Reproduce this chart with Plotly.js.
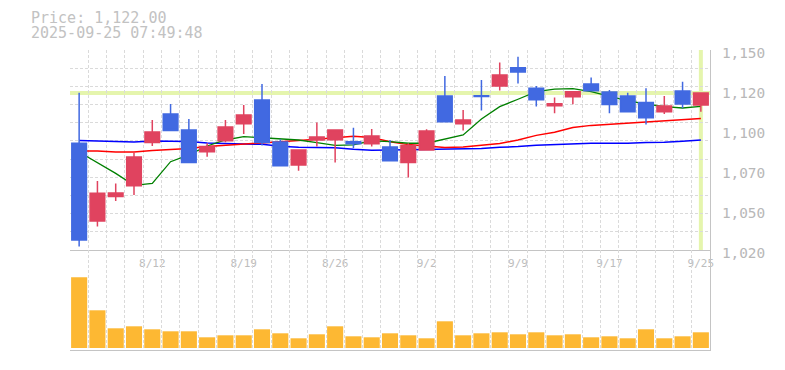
<!DOCTYPE html>
<html><head><meta charset="utf-8">
<script src="https://cdn.plot.ly/plotly-3.0.1.min.js"></script>
<style>html,body{margin:0;padding:0;background:#fff}#chart{width:785px;height:370px}</style>
</head><body><div id="chart"></div>
<script>
// ---- data ----
const dates = ['8/5','8/6','8/7','8/8','8/12','8/13','8/14','8/15','8/18','8/19','8/20','8/21','8/22','8/25','8/26','8/27','8/28','8/29','9/1','9/2','9/3','9/4','9/5','9/8','9/9','9/10','9/11','9/12','9/16','9/17','9/18','9/19','9/22','9/24','9/25'];
const openP  = [1089.4,1038.9,1054.7,1061.8,1089.8,1108.4,1098.0,1083.9,1091.0,1102.1,1117.5,1090.2,1075.3,1091.5,1091.7,1090.4,1089.1,1087.0,1076.8,1085.0,1120.1,1102.1,1120.2,1126.6,1138.5,1125.1,1113.8,1119.6,1127.9,1122.7,1120.1,1115.8,1109.9,1123.4,1114.3];
const highP  = [1122.2,1064.9,1063.3,1083.3,1104.5,1114.9,1105.2,1089.4,1104.5,1114.3,1127.9,1092.0,1085.0,1102.8,1098.0,1099.5,1098.7,1091.5,1089.4,1098.5,1133.1,1111.0,1130.5,1141.8,1145.6,1126.6,1119.2,1122.9,1132.2,1124.0,1122.2,1125.1,1120.1,1129.4,1122.0];
const lowP   = [1022.2,1035.2,1051.9,1055.8,1087.6,1097.6,1076.8,1080.6,1090.0,1095.4,1088.0,1074.8,1071.5,1087.2,1076.8,1086.1,1087.2,1078.0,1067.2,1084.6,1103.4,1097.6,1110.6,1123.6,1128.3,1113.2,1108.9,1114.7,1123.5,1108.9,1109.9,1101.5,1108.4,1112.1,1109.9];
const closeP = [1026.5,1056.9,1057.0,1080.5,1096.7,1097.6,1076.8,1087.2,1100.0,1107.8,1089.8,1074.8,1085.0,1093.5,1098.0,1089.1,1094.1,1078.0,1088.0,1097.4,1103.4,1104.5,1119.8,1133.8,1135.7,1117.7,1115.1,1122.9,1123.5,1114.5,1109.9,1106.0,1113.6,1114.9,1122.0];
const volume = [707,377,197,217,187,167,167,107,127,127,187,147,97,137,217,117,107,147,127,97,267,127,147,157,137,157,127,137,107,117,97,187,97,117,157];
const ma5  = [1083.7,1076.8,1069.8,1062.0,1063.3,1077.4,1081.8,1087.6,1091.5,1093.7,1093.0,1092.0,1091.5,1089.8,1088.0,1088.3,1091.0,1090.4,1089.4,1089.4,1092.2,1094.8,1105.2,1113.2,1118.0,1122.9,1124.6,1124.9,1122.9,1119.7,1116.9,1114.9,1113.2,1112.3,1113.4];
const ma25 = [1084.4,1084.4,1083.7,1083.7,1084.6,1085.2,1086.0,1087.3,1088.0,1088.9,1089.4,1090.0,1091.1,1092.0,1093.2,1094.0,1093.2,1090.4,1088.5,1087.4,1086.7,1086.9,1088.0,1089.2,1091.5,1094.5,1096.6,1099.6,1101.0,1101.8,1102.5,1103.4,1104.3,1105.0,1105.5];
const ma75 = [1091.2,1090.9,1090.2,1090.2,1090.9,1090.9,1090.5,1089.5,1089.4,1088.9,1088.7,1087.5,1086.8,1086.5,1086.5,1085.5,1084.8,1085.0,1085.2,1085.5,1085.5,1085.5,1085.9,1086.8,1087.2,1088.1,1088.6,1089.3,1089.4,1089.4,1089.4,1089.9,1090.0,1090.7,1091.5];
const xLabelDates = ['8/12','8/19','8/26','9/2','9/9','9/17','9/25'];
const yTickText = ['1,020','1,050','1,070','1,100','1,120','1,150'];
const timestamp = '2025-09-25 07:49:48';

// ---- config ----
const n = dates.length;
const xIdx = dates.map((_, i) => i);
const lastIdx = n - 1;
const lastPrice = closeP[lastIdx];
const yRange = [1020, 1150];
const volRange = [-20, 980];
const xRange = [-0.5, n - 0.5];
const gridY = Array.from({length: 12}, (_, k) => yRange[0] + k * (yRange[1] - yRange[0]) / 11);
const labelY = yTickText.map((_, k) => yRange[0] + k * (yRange[1] - yRange[0]) / (yTickText.length - 1));
const labelX = xLabelDates.map(d => dates.indexOf(d));

const MONO = 'DejaVu Sans Mono, monospace';
const GRID = '#dadada';
const AXL = '#c4c4c4';
const UP = '#e0435f', DOWN = '#4169e1';
const NOW = '#e5f5ad';

const lineTrace = (y, color, w) => ({
  type: 'scatter', mode: 'lines', x: xIdx, y: y, xaxis: 'x', yaxis: 'y',
  line: {color: color, width: w}, hoverinfo: 'skip', showlegend: false
});

const traces = [
  lineTrace(ma75, '#0000ff', 1.5),
  lineTrace(ma25, '#ff0000', 1.5),
  lineTrace(ma5, '#008000', 1.3),
  {
    type: 'candlestick', x: xIdx, open: openP, high: highP, low: lowP, close: closeP,
    xaxis: 'x', yaxis: 'y3', showlegend: false, hoverinfo: 'skip', whiskerwidth: 0,
    increasing: {line: {color: UP, width: 1.5}, fillcolor: UP},
    decreasing: {line: {color: DOWN, width: 1.5}, fillcolor: DOWN}
  },
  {
    type: 'bar', x: xIdx, y: volume, xaxis: 'x2', yaxis: 'y2',
    marker: {color: '#fdb833', line: {width: 0}}, showlegend: false, hoverinfo: 'skip'
  }
];

const minorGridX = {tick0: -0.5, dtick: 1, showgrid: true, gridcolor: GRID, griddash: '3px,2px', gridwidth: 1, ticks: ''};

const layout = {
  width: 785, height: 370,
  margin: {l: 70, r: 75, t: 50, b: 20, pad: 0},
  paper_bgcolor: '#ffffff', plot_bgcolor: '#ffffff',
  font: {family: MONO, color: '#bbbbbb'},
  showlegend: false, bargap: 0.12, boxgap: 0.2, boxgroupgap: 0,
  xaxis: {
    domain: [0, 1], anchor: 'y', range: xRange, rangeslider: {visible: false},
    tickmode: 'array', tickvals: labelX, ticktext: xLabelDates, ticks: '',
    ticklabelstandoff: 3,
    tickfont: {family: MONO, size: 11, color: '#bdbdbd'},
    showgrid: false, zeroline: false, showline: true, linecolor: AXL, linewidth: 1,
    minor: minorGridX
  },
  xaxis2: {
    domain: [0, 1], anchor: 'y2', range: xRange,
    showticklabels: false, ticks: '', tickmode: 'array', tickvals: labelX,
    showgrid: false, zeroline: false, showline: true, linecolor: AXL, linewidth: 1,
    minor: minorGridX
  },
  yaxis: {
    domain: [1/3, 1], anchor: 'x', side: 'right', range: yRange, fixedrange: true,
    tickmode: 'array', tickvals: gridY, showticklabels: false, ticks: '',
    showgrid: true, gridcolor: GRID, griddash: '3px,2px', gridwidth: 1,
    zeroline: false, showline: true, linecolor: AXL, linewidth: 1
  },
  yaxis3: {
    overlaying: 'y', anchor: 'x', side: 'right', range: yRange, fixedrange: true,
    tickmode: 'array', tickvals: labelY, ticktext: yTickText,
    ticks: 'outside', ticklen: 8, tickcolor: 'rgba(0,0,0,0)', ticklabelshift: 3,
    tickfont: {family: MONO, size: 14.4, color: '#b8b8b8'},
    showgrid: false, zeroline: false, showline: false
  },
  yaxis2: {
    domain: [0, 1/3], anchor: 'x2', side: 'right', range: volRange, fixedrange: true,
    showticklabels: false, ticks: '', showgrid: false, zeroline: false,
    showline: true, linecolor: AXL, linewidth: 1
  },
  shapes: [
    {type: 'line', xref: 'x domain', x0: 0, x1: 1, yref: 'y', y0: lastPrice, y1: lastPrice,
     line: {color: NOW, width: 4}, layer: 'below'},
    {type: 'line', xref: 'x', x0: lastIdx, x1: lastIdx, yref: 'y domain', y0: 0, y1: 1,
     line: {color: NOW, width: 4}, layer: 'below'}
  ],
  annotations: [
    {xref: 'paper', yref: 'paper', x: (29 - 70) / 640, y: (350 - 18) / 300, xanchor: 'left', yanchor: 'middle',
     text: 'Price: ' + lastPrice.toLocaleString('en-US', {minimumFractionDigits: 2, maximumFractionDigits: 2}),
     showarrow: false, font: {family: MONO, size: 15, color: '#c2c2c2'}},
    {xref: 'paper', yref: 'paper', x: (29 - 70) / 640, y: (350 - 33) / 300, xanchor: 'left', yanchor: 'middle',
     text: timestamp, showarrow: false, font: {family: MONO, size: 15, color: '#c2c2c2'}}
  ]
};

Plotly.newPlot('chart', traces, layout, {staticPlot: true, displayModeBar: false});
</script>
</body></html>
